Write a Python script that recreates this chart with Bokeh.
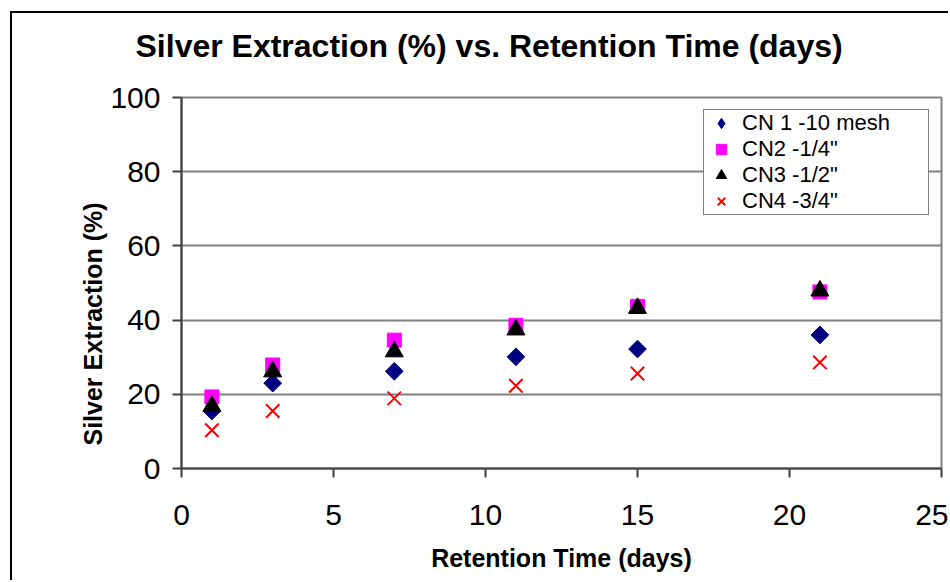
from bokeh.plotting import figure
from bokeh.models import Legend, LegendItem, FixedTicker, Range1d, Title
from bokeh.embed import file_html
from bokeh.resources import INLINE

# ---- data ----
days = [1, 3, 7, 11, 15, 21]
cn1 = [15.5, 23.0, 26.2, 30.1, 32.2, 36.0]
cn2 = [19.3, 27.9, 34.6, 38.6, 43.7, 47.6]
cn3 = [16.8, 26.1, 31.5, 37.4, 43.2, 47.9]
cn4 = [10.3, 15.5, 18.9, 22.3, 25.6, 28.6]
series_names = ['CN 1 -10 mesh', 'CN2 -1/4"', 'CN3 -1/2"', 'CN4 -3/4"']
x_ticks = [0, 5, 10, 15, 20, 25]
y_ticks = [0, 20, 40, 60, 80, 100]
title_text = "Silver Extraction (%) vs. Retention Time (days)"
x_title = "Retention Time (days)"
y_title = "Silver Extraction (%)"

FONT = "Liberation Sans"

p = figure(width=938, height=569, output_backend="svg", toolbar_location=None,
           title=None,
           x_range=Range1d(0, 25), y_range=Range1d(0, 100),
           min_border_left=169, min_border_right=9, min_border_top=84, min_border_bottom=114,
           margin=(11, 0, 0, 10),
           styles={"border-left": "2px solid black", "border-top": "2px solid black"})

p.background_fill_color = "white"
p.border_fill_color = "white"
p.outline_line_color = "#808080"
p.outline_line_width = 2

# grid
p.xgrid.visible = False
p.ygrid.grid_line_color = "#808080"
p.ygrid.grid_line_width = 2
p.ygrid.ticker = FixedTicker(ticks=y_ticks)

# axes
for ax in (p.xaxis[0], p.yaxis[0]):
    ax.axis_line_color = "#404040"
    ax.axis_line_width = 2
    ax.major_tick_line_color = "#404040"
    ax.major_tick_line_width = 2
    ax.major_tick_in = 0
    ax.major_tick_out = 9
    ax.minor_tick_line_color = None
    ax.major_label_text_font = FONT
    ax.major_label_text_font_size = "30px"
    ax.major_label_text_color = "black"
    ax.axis_label_text_font = FONT
    ax.axis_label_text_font_size = "25px"
    ax.axis_label_text_font_style = "bold"
    ax.axis_label_text_color = "black"

p.xaxis.ticker = FixedTicker(ticks=x_ticks)
p.yaxis.ticker = FixedTicker(ticks=y_ticks)
p.xaxis.axis_label = x_title
p.xaxis.major_label_standoff = 27
p.yaxis.major_label_standoff = 12
p.xaxis.axis_label_standoff = 16

# spacer panel between frame and chart title, then the chart title above it
p.add_layout(Title(text=" ", text_font_size="1px", standoff=29), "above")
p.add_layout(Title(text=title_text, align="left", offset=-46, standoff=4,
                   text_font=FONT, text_font_size="32px", text_font_style="bold",
                   text_color="black"), "above")

# y axis title (placed as a side title so it can sit below the frame centre)
p.add_layout(Title(text=y_title, align="left", offset=23, standoff=2,
                   text_font=FONT, text_font_size="25px", text_font_style="bold",
                   text_color="black"), "left")

# series (the diamond marker sits under the rotated square and is used for the legend)
r1_leg = p.scatter(days, cn1, marker="diamond", size=16,
                   fill_color="#000080", line_color="#000080")
r1 = p.scatter(days, cn1, marker="square", angle=0.785398, size=12.5,
               fill_color="#000080", line_color="#000080")
r2 = p.scatter(days, cn2, marker="square", size=14,
               fill_color="#FF00FF", line_color="#FF00FF")
r3 = p.scatter(days, cn3, marker="triangle", size=18,
               fill_color="#000000", line_color="#000000")
r4 = p.scatter(days, cn4, marker="x", size=19,
               line_color="#FF0000", line_width=2)

legend = Legend(items=[
    LegendItem(label=series_names[0], renderers=[r1_leg]),
    LegendItem(label=series_names[1], renderers=[r2]),
    LegendItem(label=series_names[2], renderers=[r3]),
    LegendItem(label=series_names[3], renderers=[r4]),
], location=(522, 253))
legend.label_text_font = FONT
legend.label_text_font_size = "22px"
legend.label_text_color = "black"
legend.label_height = 23
legend.glyph_height = 26
legend.glyph_width = 34
legend.label_width = 186
legend.label_standoff = 4
legend.spacing = 0
legend.padding = 0
legend.margin = 0
legend.border_line_color = "black"
legend.border_line_width = 1
legend.background_fill_color = "white"
legend.background_fill_alpha = 1.0
p.add_layout(legend)

open("out.html", "w").write(file_html(p, INLINE))
